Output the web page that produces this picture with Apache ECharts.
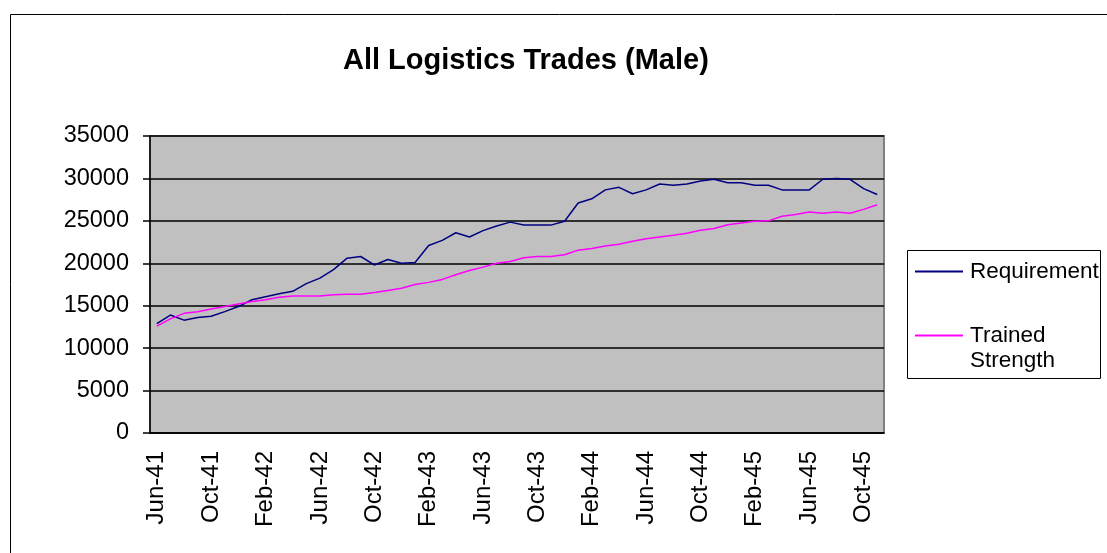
<!DOCTYPE html>
<html>
<head>
<meta charset="utf-8">
<script src="https://cdn.jsdelivr.net/npm/echarts@6/dist/echarts.min.js"></script>
<style>
  html, body { margin: 0; padding: 0; background: #fff; }
  #chart { width: 1107px; height: 553px; }
</style>
</head>
<body>
<div id="chart"></div>
<script>
// monthly, Jun-41 .. Nov-45
const months = [
  'Jun-41', 'Jul-41', 'Aug-41', 'Sep-41', 'Oct-41', 'Nov-41', 'Dec-41',
  'Jan-42', 'Feb-42', 'Mar-42', 'Apr-42', 'May-42', 'Jun-42', 'Jul-42', 'Aug-42', 'Sep-42', 'Oct-42', 'Nov-42', 'Dec-42',
  'Jan-43', 'Feb-43', 'Mar-43', 'Apr-43', 'May-43', 'Jun-43', 'Jul-43', 'Aug-43', 'Sep-43', 'Oct-43', 'Nov-43', 'Dec-43',
  'Jan-44', 'Feb-44', 'Mar-44', 'Apr-44', 'May-44', 'Jun-44', 'Jul-44', 'Aug-44', 'Sep-44', 'Oct-44', 'Nov-44', 'Dec-44',
  'Jan-45', 'Feb-45', 'Mar-45', 'Apr-45', 'May-45', 'Jun-45', 'Jul-45', 'Aug-45', 'Sep-45', 'Oct-45', 'Nov-45'
];

const requirement = [
  12900, 13900, 13300, 13600, 13750, 14300, 14900,
  15700, 16050, 16400, 16700, 17600, 18250, 19250, 20600, 20800, 19800, 20450, 20000,
  20100, 22100, 22700, 23600, 23100, 23850, 24400, 24850, 24500, 24500, 24500, 24950,
  27100, 27600, 28650, 28950, 28200, 28650, 29350, 29200, 29350, 29700, 29900, 29500,
  29500, 29200, 29200, 28650, 28650, 28650, 29900, 30000, 29900, 28800, 28100
];

const trained = [
  12600, 13450, 14100, 14300, 14600, 14900, 15200,
  15500, 15700, 16000, 16150, 16150, 16150, 16300, 16350, 16350, 16550, 16800, 17050,
  17500, 17750, 18100, 18650, 19150, 19550, 20000, 20200, 20650, 20800, 20800, 21000,
  21550, 21750, 22050, 22250, 22600, 22900, 23100, 23300, 23550, 23900, 24100, 24550,
  24750, 24950, 25000, 25550, 25750, 26050, 25900, 26050, 25900, 26350, 26900
];

const font = 'Arial, "Liberation Sans", sans-serif';
let chart = echarts.init(document.getElementById('chart'));

let option = {
  animation: false,
  backgroundColor: '#fff',
  title: {
    text: 'All Logistics Trades (Male)',
    left: 343,
    top: 46,
    padding: 0,
    textStyle: { fontFamily: font, fontSize: 29, fontWeight: 'bold', color: '#000' }
  },
  grid: {
    left: 150,
    top: 136,
    right: 223,
    bottom: 120,
    show: true,
    backgroundColor: '#c0c0c0',
    borderColor: '#808080',
    borderWidth: 2
  },
  legend: {
    orient: 'vertical',
    left: 915,
    top: 259,
    padding: 0,
    itemGap: 14,
    itemWidth: 48,
    itemHeight: 2,
    icon: 'rect',
    textStyle: { fontFamily: font, fontSize: 22.5, color: '#000', lineHeight: 25, padding: [0, 0, 0, 2] },
    formatter: (name)=> name === 'Trained Strength' ? '\nTrained\nStrength' : name,
    data: ['Requirement', 'Trained Strength']
  },
  graphic: [
    {
      type: 'rect',
      shape: { x: 10.5, y: 14.5, width: 1120, height: 560 },
      style: { fill: 'none', stroke: '#000', lineWidth: 1 },
      silent: true,
      z: -1
    },
    {
      type: 'rect',
      shape: { x: 907.5, y: 250.5, width: 193, height: 128 },
      style: { fill: '#fff', stroke: '#000', lineWidth: 1 },
      silent: true,
      z: -1
    }
  ],
  xAxis: {
    type: 'category',
    data: months,
    boundaryGap: true,
    axisLine: { lineStyle: { color: '#000', width: 1.5 } },
    axisTick: { interval: 3, length: 7, lineStyle: { color: '#000', width: 1.5 } },
    axisLabel: {
      interval: 3,
      rotate: 90,
      margin: 18,
      fontFamily: font,
      fontSize: 24,
      color: '#000'
    },
    splitLine: { show: false }
  },
  yAxis: {
    type: 'value',
    min: 0,
    max: 35000,
    interval: 5000,
    axisLine: { show: true, lineStyle: { color: '#000', width: 1.5 } },
    axisTick: { show: true, length: 7, lineStyle: { color: '#000', width: 1.5 } },
    axisLabel: {
      margin: 21,
      fontFamily: font,
      fontSize: 23.5,
      color: '#000',
      formatter: (v)=> String(v)
    },
    splitLine: { lineStyle: { color: '#000', width: 1.5 } }
  },
  series: [
    {
      name: 'Requirement',
      type: 'line',
      data: requirement,
      symbol: 'none',
      itemStyle: { color: '#000080' },
      lineStyle: { color: '#000080', width: 1.5 }
    },
    {
      name: 'Trained Strength',
      type: 'line',
      data: trained,
      symbol: 'none',
      itemStyle: { color: '#ff00ff' },
      lineStyle: { color: '#ff00ff', width: 1.5 }
    }
  ]
};
chart.setOption(option);
</script>
</body>
</html>
